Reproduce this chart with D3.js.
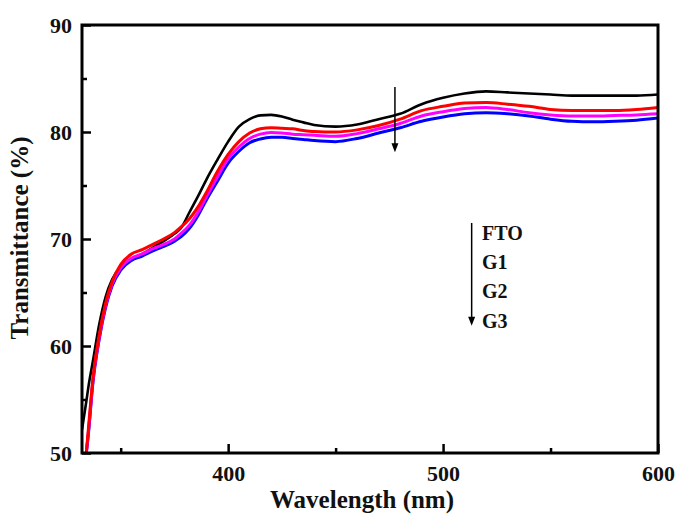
<!DOCTYPE html>
<html>
<head>
<meta charset="utf-8">
<script src="https://cdn.jsdelivr.net/npm/d3@7"></script>
<style>
  body { margin: 0; background: #fff; }
  svg { display: block; }
  text { font-family: "Liberation Serif", "Times New Roman", serif; font-weight: bold; fill: #111; }
</style>
</head>
<body>
<svg id="chart"></svg>
<script>
// wavelength grid (nm)
const wavelengths = [332, 334, 335, 337, 340, 343, 346, 350, 355, 360, 365, 370, 375, 378, 382, 386, 390, 395, 400, 405, 410, 415, 420, 425, 430, 435, 440, 450, 460, 470, 480, 490, 500, 510, 520, 530, 540, 550, 560, 570, 580, 590, 600];

// transmittance (%); null = no data
const fto = [52.2, 54.8, 56.2, 58.5, 62.0, 64.6, 66.2, 67.4, 68.1, 68.6, 69.2, 69.8, 70.5, 71.0, 72.5, 74.0, 75.6, 77.4, 79.1, 80.5, 81.2, 81.55, 81.6, 81.45, 81.15, 80.9, 80.65, 80.5, 80.7, 81.2, 81.7, 82.6, 83.2, 83.6, 83.8, 83.7, 83.6, 83.5, 83.4, 83.4, 83.4, 83.4, 83.5];
const g1 = [null, 50.0, 52.3, 56.8, 61.0, 64.0, 66.0, 67.6, 68.6, 69.0, 69.5, 70.0, 70.6, 71.1, 71.9, 73.0, 74.4, 76.3, 77.9, 79.1, 79.9, 80.3, 80.4, 80.35, 80.3, 80.15, 80.05, 80.0, 80.2, 80.6, 81.2, 82.0, 82.4, 82.7, 82.75, 82.6, 82.4, 82.1, 82.0, 82.0, 82.0, 82.1, 82.3];
const g2 = [null, 50.0, 52.0, 56.6, 60.8, 63.8, 65.8, 67.3, 68.2, 68.6, 69.1, 69.5, 70.0, 70.5, 71.3, 72.5, 74.0, 75.8, 77.5, 78.6, 79.4, 79.8, 79.95, 79.9, 79.8, 79.75, 79.7, 79.6, 79.85, 80.3, 80.8, 81.5, 81.9, 82.2, 82.3, 82.1, 81.8, 81.6, 81.5, 81.5, 81.55, 81.6, 81.7];
const g3 = [null, 50.0, 51.8, 56.4, 60.6, 63.6, 65.6, 67.1, 68.0, 68.4, 68.9, 69.3, 69.8, 70.2, 71.0, 72.2, 73.7, 75.4, 77.1, 78.2, 79.0, 79.35, 79.5, 79.5, 79.4, 79.3, 79.2, 79.1, 79.4, 79.9, 80.4, 81.0, 81.4, 81.7, 81.8, 81.7, 81.5, 81.2, 81.0, 80.95, 81.0, 81.1, 81.3];

const seriesNames = ["FTO", "G1", "G2", "G3"];
const seriesColors = ["#000000", "#ff0000", "#ff00ff", "#0000ff"];
const drawOrder = [0, 3, 2, 1];

const xTicks = [400, 500, 600];
const xMinorTicks = [350, 450, 550];
const yTicks = [50, 60, 70, 80, 90];
const yMinorTicks = [55, 65, 75, 85];

const width = 678, height = 515;
const margin = { top: 25, right: 20, bottom: 62, left: 82 };

const svg = d3.select("#chart").attr("width", width).attr("height", height);

const x = d3.scaleLinear().domain([332, 600]).range([margin.left, width - margin.right]);
const y = d3.scaleLinear().domain([50, 90]).range([height - margin.bottom, margin.top]);

svg.append("clipPath").attr("id", "plotclip")
  .append("rect")
  .attr("x", margin.left).attr("y", margin.top)
  .attr("width", x.range()[1] - margin.left)
  .attr("height", y.range()[0] - margin.top);

// curves
const allSeries = [fto, g1, g2, g3];
const line = d3.line()
  .defined(d => d[1] !== null)
  .x(d => x(d[0]))
  .y(d => y(d[1]))
  .curve(d3.curveMonotoneX);

const curves = svg.append("g").attr("clip-path", "url(#plotclip)");
drawOrder.forEach(i => {
  curves.append("path")
    .datum(wavelengths.map((w, k) => [w, allSeries[i][k]]))
    .attr("fill", "none")
    .attr("stroke", seriesColors[i])
    .attr("stroke-width", i === 0 ? 2.6 : 3)
    .attr("stroke-linejoin", "round")
    .attr("d", line);
});

// axes
function styleAxis(g) {
  g.select(".domain").remove();
  g.selectAll(".tick line").attr("stroke", "#000").attr("stroke-width", 2.5);
  g.selectAll(".tick text").attr("font-size", "22px").attr("fill", "#111")
    .attr("font-family", "'Liberation Serif', 'Times New Roman', serif").attr("font-weight", "bold");
}

const xAxisG = svg.append("g").attr("transform", `translate(0,${y(50)})`)
  .call(d3.axisBottom(x).tickValues(xTicks).tickSize(-9).tickPadding(12).tickFormat(d3.format("d")));
styleAxis(xAxisG);
const xMinorG = svg.append("g").attr("transform", `translate(0,${y(50)})`)
  .call(d3.axisBottom(x).tickValues(xMinorTicks).tickSize(-5).tickFormat(""));
styleAxis(xMinorG);

const yAxisG = svg.append("g").attr("transform", `translate(${x(332)},0)`)
  .call(d3.axisLeft(y).tickValues(yTicks).tickSize(-9).tickPadding(10).tickFormat(d3.format("d")));
styleAxis(yAxisG);
const yMinorG = svg.append("g").attr("transform", `translate(${x(332)},0)`)
  .call(d3.axisLeft(y).tickValues(yMinorTicks).tickSize(-5).tickFormat(""));
styleAxis(yMinorG);

// frame
svg.append("rect")
  .attr("x", x(332)).attr("y", y(90))
  .attr("width", x(600) - x(332)).attr("height", y(50) - y(90))
  .attr("fill", "none").attr("stroke", "#000").attr("stroke-width", 3);

// axis titles
svg.append("text")
  .attr("x", (x(332) + x(600)) / 2 - 8).attr("y", 508)
  .attr("text-anchor", "middle").attr("font-size", "25px")
  .text("Wavelength (nm)");
svg.append("text")
  .attr("transform", `translate(28,${(y(50) + y(90)) / 2 - 1}) rotate(-90)`)
  .attr("text-anchor", "middle").attr("font-size", "25px")
  .text("Transmittance (%)");

// arrows
const arrowCurve = { wl: 477.6, from: 84.2, to: 78.1 };
const arrowLegend = { wl: 513.3, from: 71.5, to: 61.9 };
function drawArrow(a) {
  const ax = x(a.wl), y1 = y(a.from), y2 = y(a.to);
  svg.append("line")
    .attr("x1", ax).attr("x2", ax).attr("y1", y1).attr("y2", y2 - 6)
    .attr("stroke", "#000").attr("stroke-width", 1.5);
  svg.append("path")
    .attr("d", `M${ax - 3.5},${y2 - 9} L${ax + 3.5},${y2 - 9} L${ax},${y2} Z`)
    .attr("fill", "#000");
}
drawArrow(arrowCurve);
drawArrow(arrowLegend);

// legend labels
const legendBaselines = [240, 269, 298, 328];
seriesNames.forEach((name, i) => {
  svg.append("text")
    .attr("x", 482).attr("y", legendBaselines[i])
    .attr("font-size", "20px")
    .text(name);
});
</script>
</body>
</html>
